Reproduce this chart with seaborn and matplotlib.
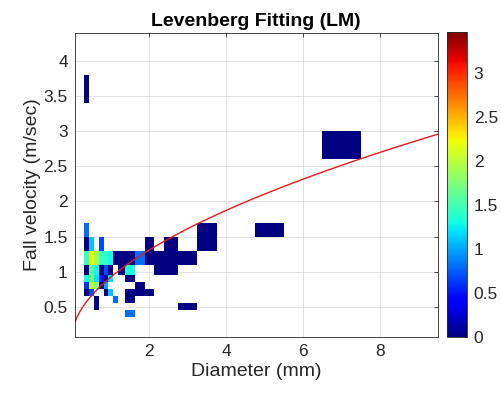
import numpy as np
import matplotlib
matplotlib.use("Agg")
import matplotlib.pyplot as plt
import seaborn as sns

# Parsivel-style class centres, used as pcolor vertices
diam_edges = [0.062, 0.187, 0.312, 0.437, 0.562, 0.687, 0.812, 0.937, 1.062, 1.187,
              1.375, 1.625, 1.875, 2.125, 2.375, 2.75, 3.25, 3.75, 4.25, 4.75,
              5.5, 6.5, 7.5, 8.5, 9.5]
vel_edges = [0.05, 0.15, 0.25, 0.35, 0.45, 0.55, 0.65, 0.75, 0.85, 0.95,
             1.1, 1.3, 1.5, 1.7, 1.9, 2.2, 2.6, 3.0, 3.4, 3.8, 4.4]

# occupied cells: lower diameter vertex, lower velocity vertex, log10(count)
cell_d = [0.312,
          0.312,
          0.312, 0.437, 0.687,
          0.312, 0.437, 0.562, 0.687, 0.812, 0.937, 1.062, 1.187, 1.375, 1.625, 1.875, 2.125, 2.375, 2.75,
          0.312, 0.437, 0.562, 0.687, 0.812, 0.937, 1.187, 1.375, 2.125, 2.375,
          0.312, 0.437, 0.562, 0.687, 0.812, 0.937, 1.375,
          0.312, 0.437, 0.562, 0.687, 0.812, 1.625,
          0.312, 0.437, 0.812, 0.937, 1.375, 1.625, 1.875,
          0.562, 1.062, 1.375,
          0.562, 2.75,
          1.375,
          1.875, 2.375, 3.25,
          3.25, 4.75,
          6.5]
cell_v = [3.4,
          1.5,
          1.3, 1.3, 1.3,
          1.1, 1.1, 1.1, 1.1, 1.1, 1.1, 1.1, 1.1, 1.1, 1.1, 1.1, 1.1, 1.1, 1.1,
          0.95, 0.95, 0.95, 0.95, 0.95, 0.95, 0.95, 0.95, 0.95, 0.95,
          0.85, 0.85, 0.85, 0.85, 0.85, 0.85, 0.85,
          0.75, 0.75, 0.75, 0.75, 0.75, 0.75,
          0.65, 0.65, 0.65, 0.65, 0.65, 0.65, 0.65,
          0.55, 0.55, 0.55,
          0.45, 0.45,
          0.35,
          1.3, 1.3, 1.3,
          1.5, 1.5,
          2.6]
cell_val = [0.0,
            0.8,
            0.0, 1.1, 0.7,
            1.45, 2.2, 1.9, 1.45, 1.4, 1.3, 0.0, 0.0, 0.0, 0.8, 0.0, 0.0, 0.0, 0.0,
            0.0, 1.55, 1.3, 0.0, 0.7, 0.0, 0.0, 1.35, 0.0, 0.0,
            1.3, 1.7, 1.2, 0.5, 0.0, 1.2, 0.0,
            0.6, 2.0, 1.8, 0.0, 1.0, 0.0,
            0.0, 0.7, 0.0, 1.1, 0.0, 0.0, 0.0,
            0.0, 0.8, 0.0,
            0.0, 0.0,
            0.8,
            0.0, 0.0, 0.0,
            0.0, 0.0,
            0.0]

# LM fit v = a * D^b + c
fit_a, fit_b, fit_c = 0.83, 0.55, 0.094

sns.set_style("white")
plt.rcParams['font.family'] = ['Liberation Sans', 'DejaVu Sans']
txt = '#262626'

grid = np.full((len(vel_edges) - 1, len(diam_edges) - 1), np.nan)
for d, v, val in zip(cell_d, cell_v, cell_val):
    grid[vel_edges.index(v), diam_edges.index(d)] = val

fig = plt.figure(figsize=(5.02, 3.96), dpi=100)
ax = fig.add_axes([0.149, 0.149, 0.723, 0.768])
ax.set_axisbelow(True)
ax.grid(True, color='#dedede', lw=0.6)

mesh = ax.pcolormesh(diam_edges, vel_edges, np.ma.masked_invalid(grid),
                     cmap='jet', vmin=0, vmax=3.47, shading='flat')

d_fit = np.linspace(diam_edges[0], diam_edges[-1], 300)
sns.lineplot(x=d_fit, y=fit_a * d_fit ** fit_b + fit_c, color='#e41a1c', lw=1.0, ax=ax)

ax.set_xlim(0.062, 9.5)
ax.set_ylim(0.07, 4.4)
ax.set_xticks([2, 4, 6, 8])
ax.set_yticks(np.arange(0.5, 4.01, 0.5))
ax.yaxis.set_major_formatter(matplotlib.ticker.FormatStrFormatter('%g'))
ax.tick_params(direction='in', top=True, right=True, length=3, width=0.6,
               colors=txt, labelsize=12.5, pad=5)
for s in ax.spines.values():
    s.set_color(txt)
    s.set_linewidth(0.6)

ax.set_xlabel('Diameter (mm)', fontsize=14, color=txt, labelpad=3)
ax.set_ylabel('Fall velocity (m/sec)', fontsize=14, color=txt, labelpad=2)
ax.set_title('Levenberg Fitting (LM)', fontsize=14, fontweight='bold', color='black', pad=5)

cax = fig.add_axes([0.890, 0.149, 0.040, 0.770])
cb = fig.colorbar(mesh, cax=cax, ticks=np.arange(0, 3.01, 0.5))
cb.ax.yaxis.set_major_formatter(matplotlib.ticker.FormatStrFormatter('%g'))
cb.ax.tick_params(direction='in', length=3, width=0.6, colors=txt, labelsize=12.5, pad=5)
cb.outline.set_edgecolor(txt)
cb.outline.set_linewidth(0.6)

fig.savefig('out.png', dpi=100)
